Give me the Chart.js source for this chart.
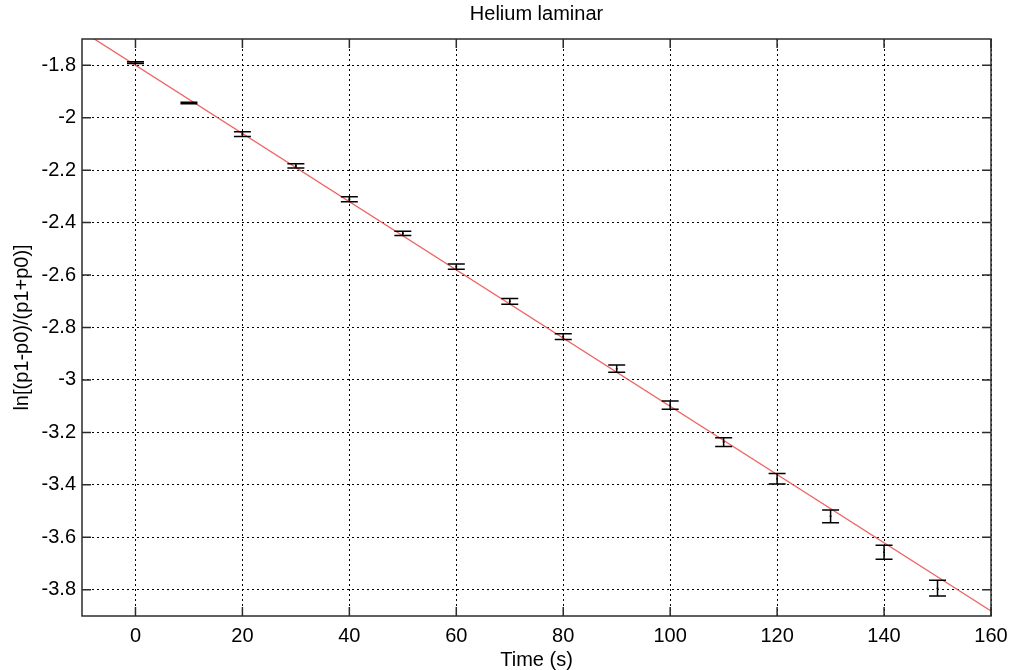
<!DOCTYPE html>
<html>
<head>
<meta charset="utf-8">
<script src="https://cdn.jsdelivr.net/npm/chart.js@4"></script>
<style>
  body { margin: 0; background: #fff; }
  #wrap { width: 1011px; height: 670px; }
</style>
</head>
<body>
<div id="wrap"><canvas id="plot" width="1011" height="670"></canvas></div>
<script>
// measured values (time in s, ln ratio, half error)
const time = [0, 10, 20, 30, 40, 50, 60, 70, 80, 90, 100, 110, 120, 130, 140, 150];
const lnRatio = [-1.790, -1.944, -2.063, -2.184, -2.311, -2.441, -2.568, -2.700,
                 -2.835, -2.957, -3.096, -3.237, -3.377, -3.520, -3.657, -3.794];
const errHalf = [0.003, 0.003, 0.009, 0.008, 0.010, 0.008, 0.010, 0.011,
                 0.011, 0.014, 0.016, 0.017, 0.020, 0.024, 0.027, 0.030];

// linear fit line
const fitX = [-10, 160];
const fitY = [-1.670, -3.881];

const xTicks = [0, 20, 40, 60, 80, 100, 120, 140, 160];
const yTicks = [-3.8, -3.6, -3.4, -3.2, -3, -2.8, -2.6, -2.4, -2.2, -2, -1.8];

const FONT = "'Liberation Sans', Arial, sans-serif";

// error bars drawn with the chart scales
const errorBars = {
  id: 'errorBars',
  afterDatasetsDraw(chart) {
    const { ctx, scales: { x, y } } = chart;
    ctx.save();
    ctx.strokeStyle = '#000';
    ctx.lineWidth = 1.5;
    const cap = 8.5;
    time.forEach((t, i) => {
      const px = x.getPixelForValue(t);
      const top = y.getPixelForValue(lnRatio[i] + errHalf[i]);
      const bot = y.getPixelForValue(lnRatio[i] - errHalf[i]);
      ctx.beginPath();
      ctx.moveTo(px, top); ctx.lineTo(px, bot);
      ctx.moveTo(px - cap, top); ctx.lineTo(px + cap, top);
      ctx.moveTo(px - cap, bot); ctx.lineTo(px + cap, bot);
      ctx.stroke();
    });
    ctx.restore();
  }
};

// matlab style box with ticks pointing inward on all sides
const axesBox = {
  id: 'axesBox',
  afterDraw(chart) {
    const { ctx, chartArea: a, scales: { x, y } } = chart;
    const len = 9;
    ctx.save();
    ctx.strokeStyle = '#2b2b2b';
    ctx.lineWidth = 1.5;
    ctx.strokeRect(a.left, a.top, a.right - a.left, a.bottom - a.top);
    ctx.beginPath();
    xTicks.forEach(v => {
      const px = x.getPixelForValue(v);
      ctx.moveTo(px, a.bottom); ctx.lineTo(px, a.bottom - len);
      ctx.moveTo(px, a.top); ctx.lineTo(px, a.top + len);
    });
    yTicks.forEach(v => {
      const py = y.getPixelForValue(v);
      ctx.moveTo(a.left, py); ctx.lineTo(a.left + len, py);
      ctx.moveTo(a.right, py); ctx.lineTo(a.right - len, py);
    });
    ctx.stroke();
    ctx.restore();
  }
};

new Chart(document.getElementById('plot'), {
  type: 'scatter',
  data: {
    datasets: [
      {
        label: 'fit',
        type: 'line',
        data: fitX.map((v, i) => ({ x: v, y: fitY[i] })),
        borderColor: 'rgba(235, 70, 70, 0.85)',
        borderWidth: 1.3,
        pointRadius: 0,
        fill: false
      },
      {
        label: 'data',
        data: time.map((t, i) => ({ x: t, y: lnRatio[i] })),
        backgroundColor: '#000',
        borderColor: '#000',
        pointRadius: 1,
        borderWidth: 0
      }
    ]
  },
  options: {
    responsive: false,
    animation: false,
    layout: { padding: { left: 0, right: 20, top: 0, bottom: 0 } },
    plugins: {
      legend: { display: false },
      tooltip: { enabled: false },
      title: {
        display: true,
        text: 'Helium laminar',
        fullSize: false,
        color: '#000',
        font: { family: FONT, size: 20, weight: 'normal', lineHeight: 1.2 },
        padding: { top: 2, bottom: 13 }
      }
    },
    scales: {
      x: {
        type: 'linear',
        min: -10,
        max: 160,
        afterBuildTicks: s => { s.ticks = xTicks.map(v => ({ value: v })); },
        afterFit: s => { s.height = 54; s.paddingLeft = 0; s.paddingRight = 0; },
        grid: { color: '#000', lineWidth: 1, drawTicks: false },
        border: { display: false, dash: [2, 3] },
        ticks: {
          color: '#000',
          padding: 8,
          font: { family: FONT, size: 20 },
          callback: v => String(v)
        },
        title: {
          display: true,
          text: 'Time (s)',
          color: '#000',
          font: { family: FONT, size: 20, lineHeight: 1 },
          padding: { top: 0, bottom: 0 }
        }
      },
      y: {
        type: 'linear',
        min: -3.9,
        max: -1.7,
        afterBuildTicks: s => { s.ticks = yTicks.map(v => ({ value: v })); },
        afterFit: s => { s.width = 82; },
        grid: { color: '#000', lineWidth: 1, drawTicks: false },
        border: { display: false, dash: [2, 3] },
        ticks: {
          color: '#000',
          padding: 6,
          font: { family: FONT, size: 20 },
          callback: v => String(Number(v.toFixed(1)))
        },
        title: {
          display: true,
          text: 'ln[(p1-p0)/(p1+p0)]',
          color: '#000',
          font: { family: FONT, size: 20, lineHeight: 1.2 },
          padding: { top: 10, bottom: 0 }
        }
      }
    }
  },
  plugins: [errorBars, axesBox]
});
</script>
</body>
</html>
